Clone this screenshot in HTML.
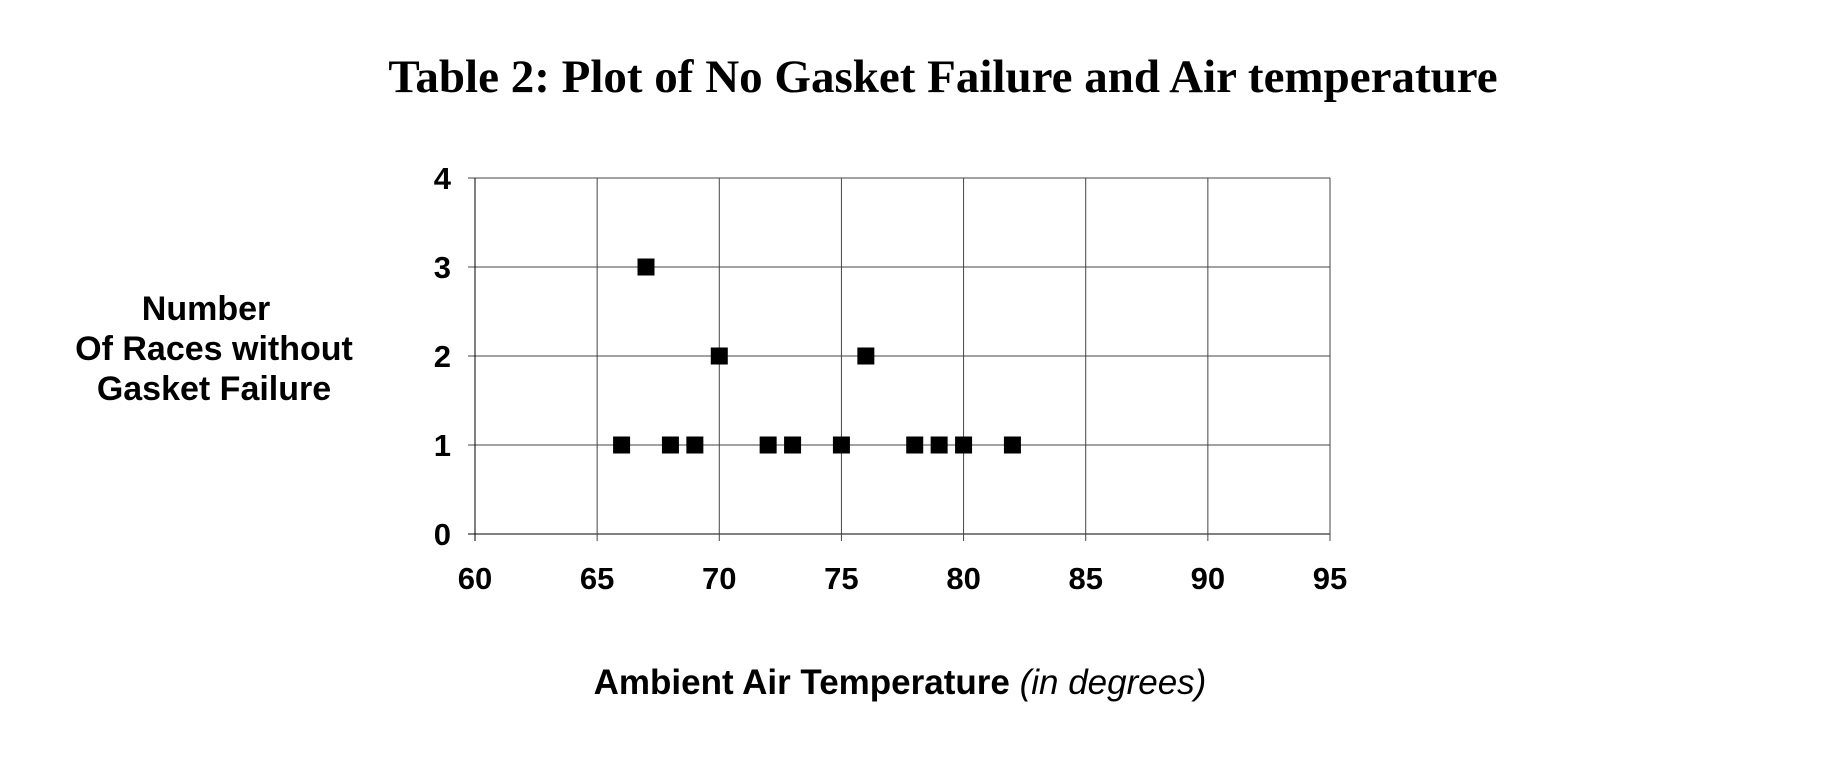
<!DOCTYPE html>
<html><head><meta charset="utf-8"><style>
body{margin:0;background:#fff;width:1834px;height:762px;overflow:hidden}
svg{display:block}
</style></head><body>
<svg width="1834" height="762">
<text x="943" y="92" text-anchor="middle" font-family="Liberation Serif, serif" font-weight="bold" font-size="47">Table 2: Plot of No Gasket Failure and Air temperature</text>
<g font-family="Liberation Sans, sans-serif" font-weight="bold" font-size="34" text-anchor="middle">
<text x="206" y="320">Number</text>
<text x="214" y="360">Of Races without</text>
<text x="214" y="400">Gasket Failure</text>
</g>
<text x="900" y="694" text-anchor="middle" font-family="Liberation Sans, sans-serif" font-weight="bold" font-size="35">Ambient Air Temperature <tspan font-weight="normal" font-style="italic">(in degrees)</tspan></text>
<g id="grid"></g><g id="axes"></g><g id="marks"></g>
</svg>
<script>
const temps=[66,67,68,69,70,72,73,75,76,78,79,80,82];
const counts=[1,3,1,1,2,1,1,1,2,1,1,1,1];
const xTicks=[60,65,70,75,80,85,90,95];
const yTicks=[0,1,2,3,4];
const L=475,R=1330,T=178,B=534;
const x=v=>L+(v-60)/35*(R-L);
const y=v=>B-v/4*(B-T);
const NS='http://www.w3.org/2000/svg';
function mk(t,a,p){const e=document.createElementNS(NS,t);for(const k in a)e.setAttribute(k,a[k]);p.appendChild(e);return e;}
const grid=document.getElementById('grid'),axes=document.getElementById('axes'),marks=document.getElementById('marks');
yTicks.forEach(v=>{
 const g=mk('line',{x1:L-7,x2:R,y1:y(v),y2:y(v),stroke:v===0?'#000':'#444','stroke-width':1},grid);
 
 
 const t=mk('text',{x:451,y:y(v)+11,'text-anchor':'end','font-family':'Liberation Sans, sans-serif','font-weight':'bold','font-size':31},axes);
 t.textContent=v;
 
 
});
xTicks.forEach(v=>{
 const g=mk('line',{x1:x(v),x2:x(v),y1:T,y2:B+7,stroke:v===60?'#000':'#444','stroke-width':1},grid);
 
 
 const t=mk('text',{x:x(v),y:B+55,'text-anchor':'middle','font-family':'Liberation Sans, sans-serif','font-weight':'bold','font-size':31},axes);
 t.textContent=v;
 
 
});
temps.forEach((v,i)=>{
 const r=mk('rect',{x:x(v)-8.5,y:y(counts[i])-8.5,width:17,height:17,fill:'#000'},marks);
 
 
});
</script>
</body></html>
